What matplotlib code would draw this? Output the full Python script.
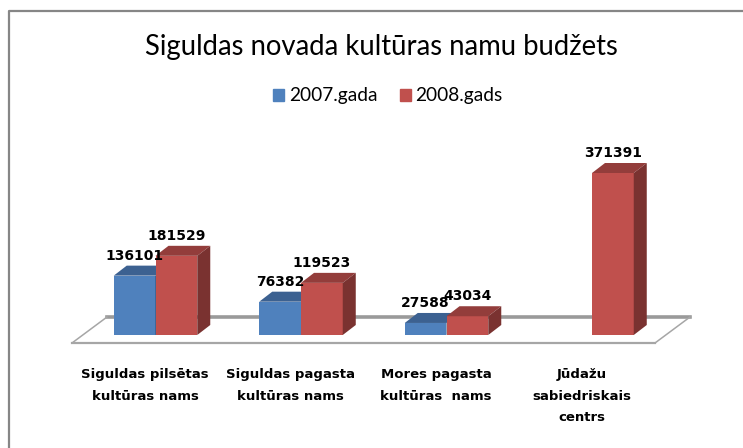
import matplotlib
matplotlib.use('Agg')
import matplotlib.pyplot as plt
from matplotlib.patches import Polygon, Rectangle

title = 'Siguldas novada kultūras namu budžets'
categories = ['Siguldas pilsētas\nkultūras nams', 'Siguldas pagasta\nkultūras nams',
              'Mores pagasta\nkultūras  nams', 'Jūdažu\nsabiedriskais\ncentrs']
series_names = ['2007.gada', '2008.gads']
values_2007 = [136101, 76382, 27588, None]
values_2008 = [181529, 119523, 43034, 371391]

blue = ['#4f81bd', '#3c6191', '#2f4d74']
red = ['#c0504d', '#933d3b', '#7a3230']

# pixels -> data: one category is 145.5 px, 162 px is the tallest bar
W, H = 743, 448
per_px_x = 1 / 145.5
per_px_y = 371391 / 162
bar_w = 0.287
dx = 13 * per_px_x
dy = 10 * per_px_y

fig = plt.figure(figsize=(W / 100, H / 100), dpi=100)
ax = fig.add_axes([0, 0, 1, 1])
ax.set_xlim(-155.5 * per_px_x, (W - 155.5) * per_px_x)
ax.set_ylim(-113 * per_px_y, 335 * per_px_y)
ax.axis('off')

# frame, only top and left are visible in the crop
ax.plot([1, 9 / W, 9 / W], [1 - 11 / H, 1 - 11 / H, 0],
        transform=ax.transAxes, color='#868686', lw=1.6, zorder=1)

# floor of the 3d chart
x0, x1 = (72 - 155.5) * per_px_x, (655 - 155.5) * per_px_x
y0 = -8 * per_px_y
back = 18 * per_px_y
shift = 35 * per_px_x
ax.plot([x0, x1], [y0, y0], color='#a6a6a6', lw=1.6, zorder=2)
ax.plot([x0 + shift, x1 + shift], [back, back], color='#9a9a9a', lw=2.6, zorder=2)
ax.plot([x0, x0 + shift], [y0, back], color='#a6a6a6', lw=1.1, zorder=2)
ax.plot([x1, x1 + shift], [y0, back], color='#a6a6a6', lw=1.1, zorder=2)


def bar3d(left, val, cols, z):
    right = left + bar_w
    ax.bar(left, val, bar_w, align='edge', color=cols[0], zorder=z)
    ax.add_patch(Polygon([(left, val), (right, val), (right + dx, val + dy), (left + dx, val + dy)],
                         color=cols[1], lw=0, zorder=z))
    ax.add_patch(Polygon([(right, 0), (right + dx, dy), (right + dx, val + dy), (right, val)],
                         color=cols[2], lw=0, zorder=z))
    ax.text(left + bar_w / 2, val + 20 * per_px_y, str(val), ha='center', va='center',
            fontsize=10, fontweight='bold', family='DejaVu Sans', color='black', zorder=20)


for i in range(len(categories)):
    if values_2007[i] is not None:
        bar3d(i - bar_w, values_2007[i], blue, 5 + i * 2)
    bar3d(i, values_2008[i], red, 6 + i * 2)
    ax.text(i - 10.5 * per_px_x, -33 * per_px_y, categories[i], ha='center', va='top',
            fontsize=9.5, fontweight='bold', family='DejaVu Sans', linespacing=1.85)

ax.text(381.5 / W, 1 - 47 / H, title, transform=ax.transAxes, ha='center', va='center',
        fontsize=19.8, family='Lato', color='black')

# legend
ax.add_patch(Rectangle((272.5 / W, 1 - 101 / H), 11 / W, 11.5 / H,
                       transform=ax.transAxes, color=blue[0]))
ax.text(289 / W, 1 - 96 / H, series_names[0], transform=ax.transAxes, va='center',
        fontsize=13.8, family='Lato')
ax.add_patch(Rectangle((399.5 / W, 1 - 101 / H), 11 / W, 11.5 / H,
                       transform=ax.transAxes, color=red[0]))
ax.text(415 / W, 1 - 96 / H, series_names[1], transform=ax.transAxes, va='center',
        fontsize=13.8, family='Lato')

fig.savefig('out.png', dpi=100)
